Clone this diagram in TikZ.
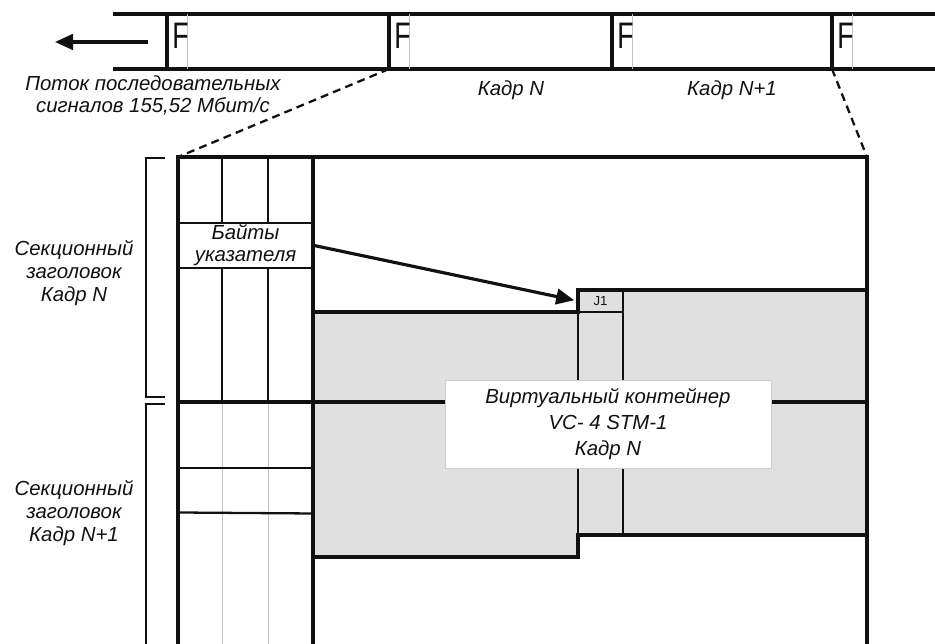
\documentclass[tikz,border=0pt]{standalone}
\usepackage{fontspec}
\setmainfont{Liberation Sans}
\usetikzlibrary{arrows.meta,positioning}
\definecolor{ink}{HTML}{111111}
\definecolor{rule}{HTML}{C4C4C4}
\definecolor{vcfill}{HTML}{E0E0E0}
\definecolor{frame}{HTML}{CDCDCD}
\tikzset{
  >={Triangle[length=3.6mm,width=3.1mm]},
  every picture/.style={line cap=butt, line join=miter},
  ln/.style={draw=ink, line width=1.8pt},
  mln/.style={draw=ink, line width=1.3pt},
  tln/.style={draw=ink, line width=0.9pt},
  gln/.style={draw=rule, line width=0.5pt},
  brk/.style={draw=ink, line width=1.1pt},
  zoomln/.style={draw=ink, line width=1.3pt, dash pattern=on 4.5pt off 3pt},
  sarr/.style={->, draw=ink, line width=1.8pt},
  parr/.style={->, draw=ink, line width=1.8pt, shorten >=2pt},
  txt/.style={font=\itshape\fontsize{11.6}{11.6}\selectfont, text=ink, align=center, inner sep=0pt},
  fmark/.style={font=\fontsize{21}{21}\selectfont, text=ink, anchor=base west, inner sep=0pt},
  ptrcell/.style={txt, draw=ink, line width=1.3pt, minimum width=2.7cm, minimum height=0.9cm},
  jcell/.style={font=\fontsize{7.5}{7.5}\selectfont, text=ink, inner sep=0pt, minimum width=0.9cm, minimum height=0.44cm},
  vclabel/.style={txt, fill=white, draw=frame, line width=0.5pt, minimum width=6.52cm, minimum height=1.76cm},
}

\begin{document}
\begin{tikzpicture}
  \useasboundingbox (0,0) rectangle (18.7,12.88);
  % ===================== serial stream =====================
  \draw[ln] (2.26,12.6) -- (18.7,12.6);
  \draw[ln] (2.26,11.5) -- (18.7,11.5);
  \foreach \x [count=\i] in {3.34,7.78,12.24,16.64}{
    \draw[ln] (\x,12.6) -- (\x,11.5) coordinate (f\i);
    \draw[gln] (\x+0.41,12.6) -- (\x+0.41,11.5);
    \node[fmark] (F\i) at (\x+0.1,11.9) {\scalebox{0.72}[1]{F}};}
  \coordinate (s0) at (2.96,12.04); \coordinate (s1) at (1.1,12.04);
  \draw[sarr] (s0) -- (s1);
  \node[txt] (flow) at (3.06,10.98) {Поток последовательных\\[1pt]сигналов 155,52 Мбит/с};
  \node[txt] (frN) at (10.22,11.08) {Кадр N};
  \node[txt] (frN1) at (14.64,11.08) {Кадр N+1};

  % ===================== expanded frame =====================
  \coordinate (tl) at (3.56,9.74); \coordinate (tr) at (17.34,9.74);
  \fill[vcfill] (6.26,6.64) -- (11.56,6.64) -- (11.56,7.08) -- (17.34,7.08) -- (17.34,2.18)
    -- (11.56,2.18) -- (11.56,1.74) -- (6.26,1.74) -- cycle;
  \foreach \x in {4.44,5.36}{
    \draw[gln] (\x,4.84) -- (\x,0);
    \draw[mln] (\x,9.74) -- (\x,8.42);
    \draw[mln] (\x,7.52) -- (\x,4.84);}
  \draw[ln] (3.56,4.84) -- (17.34,4.84);
  \draw[mln] (3.56,3.52) -- (6.26,3.52);
  \draw[mln] (3.56,2.63) -- (6.26,2.61);
  % virtual container
  \draw[ln] (6.26,6.64) -- (11.56,6.64) -- (11.56,7.08) -- (17.34,7.08);
  \draw[ln] (6.26,1.74) -- (11.56,1.74) -- (11.56,2.18) -- (17.34,2.18);
  \draw[mln] (11.56,7.08) -- (11.56,2.18);
  \draw[tln] (12.46,7.08) -- (12.46,2.18);
  \draw[tln] (11.56,6.64) -- (12.46,6.64);
  \node[jcell] (j1) at (12.01,6.86) {J1};
  \node[ptrcell] (ptr) at (4.91,7.97) {Байты\\[1pt]указателя};
  \draw[ln] (3.56,0) -- (tl) -- (tr) -- (17.34,0);
  \draw[ln] (6.26,9.74) -- (6.26,0);
  \draw[parr] (ptr.east) -- (j1.west);
  \node[vclabel] (vc) at (12.16,4.4) {Виртуальный контейнер\\[3pt]VC- 4 STM-1\\[3pt]Кадр N};
  % zoom lines
  \draw[zoomln] (f2) -- (tl);
  \draw[zoomln] (f4) -- (tr);

  % ===================== section headers =====================
  \draw[brk] (3.3,9.72) -- (2.92,9.72) -- (2.92,4.94) -- (3.3,4.94);
  \draw[brk] (3.3,4.8) -- (2.92,4.8) -- (2.92,0);
  \node[txt] (hdrN) at (1.48,7.42) {Секционный\\[1.5pt]заголовок\\[1.5pt]Кадр N};
  \node[txt] (hdrN1) at (1.48,2.62) {Секционный\\[1.5pt]заголовок\\[1.5pt]Кадр N+1};
\end{tikzpicture}
\end{document}
